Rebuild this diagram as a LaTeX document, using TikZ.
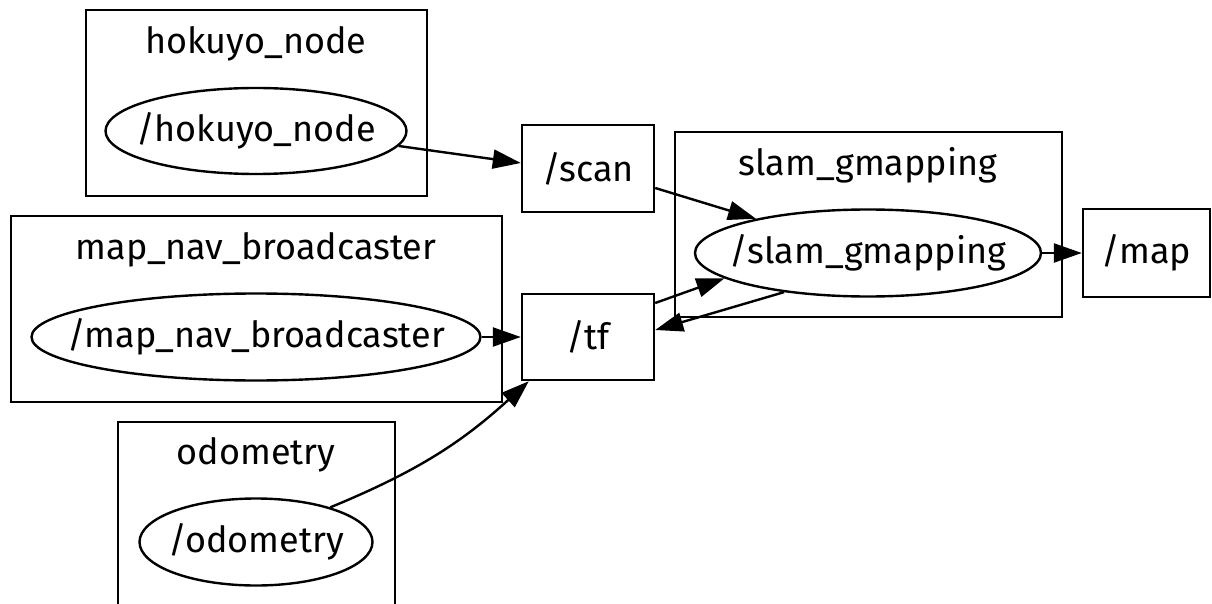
\documentclass[tikz,border=0pt]{standalone}
\usepackage{fontspec}
\setmainfont{Fira Sans}
\usetikzlibrary{arrows.meta,shapes.geometric}
\newcommand{\zw}[1]{\makebox[0pt][c]{#1}}
\begin{document}
\begin{tikzpicture}[x=1pt,y=-1pt,
  txt/.style={font=\fontsize{36}{42}\selectfont, inner sep=0pt},
  cluster/.style={draw, line width=2.4pt, inner sep=0pt, fill=none},
  topic/.style={draw, line width=2.4pt, inner sep=0pt, font=\fontsize{36}{42}\selectfont},
  gnode/.style={draw, ellipse, line width=2.4pt, inner sep=0pt, font=\fontsize{36}{42}\selectfont},
  edge/.style={line width=2.4pt, -{Triangle[length=28pt,width=19pt]}}
]
\useasboundingbox (0,0) rectangle (1212,604);
\fill[white] (0,0) rectangle (1212,604);
% clusters
\node[cluster, minimum width=341, minimum height=186] (chk) at (256.5,103) {};
\node[cluster, minimum width=491, minimum height=186] (cmn) at (256.5,309) {};
\node[cluster, minimum width=277, minimum height=194] (cod) at (256.5,519) {};
\node[cluster, minimum width=387, minimum height=185] (csg) at (868.5,224.5) {};
% cluster labels
\node[txt] (lhk) at (256,44) {hokuyo\_node};
\node[txt] (lmn) at (256,250) {map\_nav\_broadcaster};
\node[txt] (lod) at (256,455) {odometry};
\node[txt] (lsg) at (868,165) {slam\_gmapping};
% node ellipses
\node[gnode, minimum width=301, minimum height=86] (hn) at (256,131) {\zw{/hokuyo\_node}};
\node[gnode, minimum width=449, minimum height=87] (mn) at (256,337) {\zw{/map\_nav\_broadcaster}};
\node[gnode, minimum width=233, minimum height=87] (od) at (256,542) {\zw{/odometry}};
\node[gnode, minimum width=346, minimum height=87] (sg) at (868,253) {\zw{/slam\_gmapping}};
% topics
\node[topic, minimum width=132, minimum height=87] (scan) at (588,168.5) {/scan};
\node[topic, minimum width=132, minimum height=86] (tf) at (588,337) {/tf};
\node[topic, minimum width=127, minimum height=88] (map) at (1146.5,253) {/map};
% edges
\draw[edge] (hn.-6.4) -- ([yshift=5.5pt]scan.west);
\draw[edge] ([yshift=-19.5pt]scan.east) -- (sg.163);
\draw[edge] (sg.east) -- (map.west);
\draw[edge] (mn.east) -- (tf.west);
\draw[edge] (od.25) to[bend right=10] ([xshift=8pt]tf.south west);
\draw[edge] ([yshift=34pt]tf.east) -- (sg.190);
\draw[edge] (sg.205.7) -- ([yshift=7pt]tf.east);
\end{tikzpicture}
\end{document}
